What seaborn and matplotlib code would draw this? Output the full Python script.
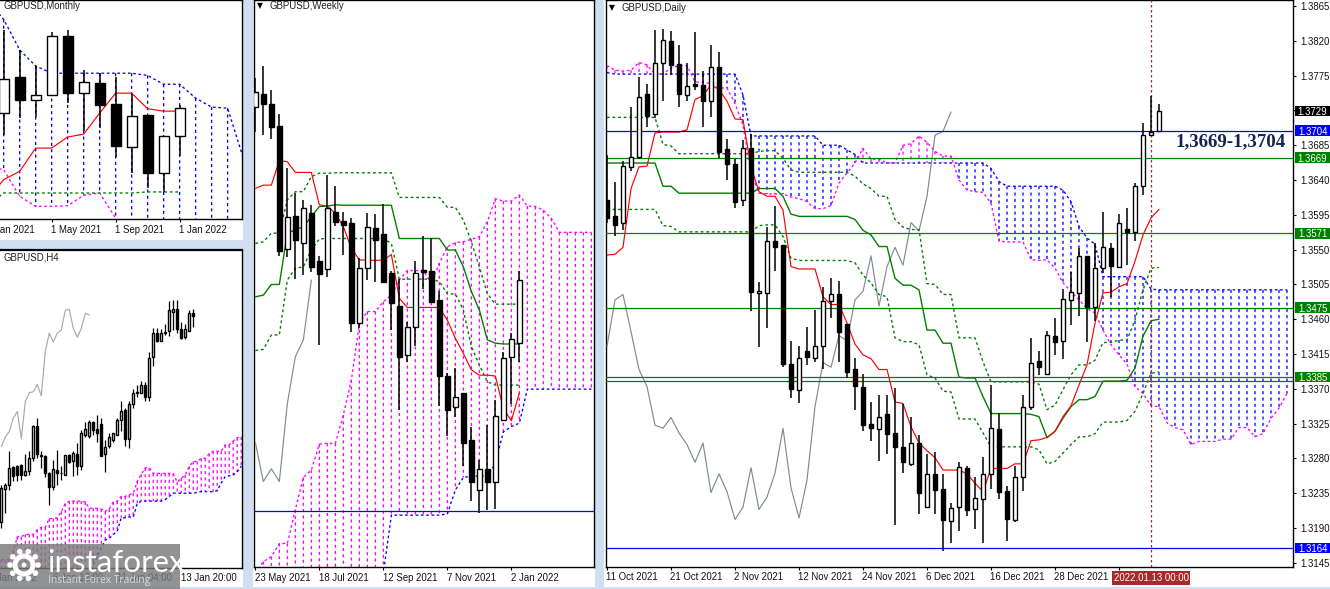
import numpy as np
import matplotlib
matplotlib.use("Agg")
import matplotlib.pyplot as plt
from matplotlib.patches import Rectangle, Circle
from matplotlib.transforms import blended_transform_factory
import seaborn as sns

# ---------------- DATA (prices in 1e-4 units) ----------------
d_open = [13614,13593,13584,13657,13670,13751,13725,13791,13820,13790,
 13750,13764,13763,13742,13786,13680,13661,13614,13682,13494,
 13494,13561,13556,13402,13368,13419,13410,13426,13483,13492,
 13454,13395,13373,13325,13318,13337,13313,13295,13273,13300,
 13217,13260,13240,13199,13217,13267,13214,13227,13260,13318,
 13238,13201,13256,13347,13406,13389,13438,13432,13485,13494,
 13542,13476,13526,13552,13528,13577,13573,13632,13698,13703]
d_close = [13591,13582,13658,13670,13747,13723,13791,13821,13789,13751,
 13761,13762,13742,13786,13676,13661,13612,13681,13495,13496,
 13561,13554,13402,13370,13410,13411,13425,13484,13492,13444,
 13392,13374,13323,13319,13333,13311,13295,13275,13300,13235,
 13260,13239,13200,13216,13269,13213,13229,13260,13319,13237,
 13202,13256,13347,13404,13398,13439,13431,13486,13495,13542,
 13476,13526,13554,13529,13585,13573,13632,13698,13702,13729]
d_high = [13673,13638,13665,13735,13773,13764,13834,13835,13833,13815,
 13791,13831,13781,13815,13805,13693,13667,13692,13699,13508,
 13579,13607,13556,13432,13426,13450,13472,13502,13513,13510,
 13454,13410,13389,13353,13362,13362,13371,13351,13334,13310,
 13286,13288,13260,13222,13275,13270,13256,13282,13375,13339,
 13244,13270,13362,13436,13419,13445,13462,13499,13521,13552,
 13542,13558,13599,13558,13596,13604,13636,13714,13749,13738]
d_low = [13584,13568,13575,13652,13667,13708,13720,13742,13776,13735,
 13742,13757,13709,13722,13668,13640,13604,13607,13470,13424,
 13449,13523,13398,13358,13352,13401,13405,13396,13462,13405,
 13384,13342,13315,13303,13277,13286,13194,13261,13270,13208,
 13217,13208,13160,13170,13186,13206,13189,13170,13241,13228,
 13173,13198,13238,13342,13388,13389,13414,13408,13453,13464,
 13431,13458,13520,13489,13526,13530,13561,13620,13698,13703]
d_tenkan = [13543,13544,13553,13629,13657,13658,13701,13702,13702,13702,
 13705,13744,13749,13763,13757,13742,13719,13718,13657,13625,
 13619,13619,13601,13528,13525,13525,13525,13489,13479,13479,
 13455,13428,13414,13409,13395,13395,13353,13351,13321,13300,
 13290,13281,13265,13265,13265,13260,13248,13237,13267,13267,
 13267,13273,13273,13303,13304,13307,13315,13334,13348,13375,
 13401,13455,13494,13495,13502,13506,13535,13569,13591,13602]
d_kijun = [13662,13662,13662,13662,13662,13662,13662,13632,13632,13623,
 13623,13623,13623,13623,13623,13623,13623,13623,13623,13629,
 13629,13629,13619,13596,13593,13593,13593,13593,13593,13593,
 13593,13589,13575,13569,13554,13554,13513,13504,13504,13498,
 13446,13446,13429,13429,13385,13384,13384,13360,13338,13338,
 13338,13338,13338,13337,13334,13307,13315,13332,13347,13356,
 13356,13360,13380,13380,13380,13381,13397,13438,13458,13460]
d_env_up = [13721,13721,13721,13721,13721,13721,13721,13686,13684,13674,
 13674,13674,13674,13674,13674,13674,13674,13674,13674,13677,
 13678,13678,13668,13653,13650,13650,13650,13650,13650,13650,
 13650,13645,13635,13629,13619,13619,13589,13579,13576,13576,
 13506,13505,13492,13492,13436,13436,13436,13405,13379,13379,
 13379,13379,13379,13379,13376,13343,13349,13369,13388,13401,
 13401,13407,13430,13430,13433,13433,13459,13498,13526,13527]
d_env_dn = [13602,13602,13602,13602,13602,13602,13602,13581,13580,13573,
 13573,13573,13573,13573,13573,13573,13573,13573,13573,13581,
 13582,13582,13567,13539,13536,13536,13536,13536,13536,13536,
 13536,13533,13517,13507,13492,13489,13436,13431,13431,13427,
 13388,13384,13367,13366,13331,13331,13331,13313,13295,13295,
 13295,13295,13295,13295,13291,13273,13276,13287,13298,13308,
 13308,13312,13327,13327,13327,13329,13341,13364,13390,13392]
d_span_a = [13779,13777,13777,13777,13777,13777,13777,13777,13777,13777,
 13777,13777,13777,13777,13777,13777,13777,13750,13697,13697,
 13697,13697,13697,13697,13697,13697,13697,13685,13685,13685,
 13679,13673,13662,13662,13662,13662,13662,13662,13662,13662,
 13662,13662,13662,13662,13662,13662,13662,13662,13655,13638,
 13632,13632,13632,13632,13632,13632,13632,13627,13612,13580,
 13565,13557,13515,13515,13515,13515,13515,13515,13499,13498,
 13498,13498,13498,13498,13498,13498,13498,13498,13498,13498,
 13498,13498,13498,13498,13498,13498]
d_span_b = [13788,13782,13781,13782,13792,13789,13777,13777,13785,13788,
 13788,13767,13766,13765,13759,13759,13739,13711,13649,13623,
 13622,13622,13622,13618,13616,13612,13603,13603,13607,13636,
 13649,13662,13681,13667,13667,13662,13662,13685,13687,13697,
 13689,13677,13671,13671,13640,13627,13625,13624,13610,13561,
 13560,13560,13560,13537,13536,13537,13526,13507,13496,13485,
 13474,13468,13446,13427,13414,13402,13373,13364,13348,13347,
 13326,13320,13317,13298,13302,13302,13302,13305,13305,13320,
 13320,13308,13312,13332,13345,13364]
d_chikou = [13425,13485,13492,13444,13395,13373,13323,13319,13333,13313,
 13298,13275,13300,13236,13260,13237,13201,13217,13268,13214,
 13230,13261,13319,13242,13203,13252,13347,13404,13398,13439,
 13432,13485,13496,13542,13477,13528,13553,13530,13585,13574,
 13619,13698,13703,13728]
d_green_levels = [1.3669, 1.3571, 1.3475, 1.3385, 1.3380]
d_blue_levels = [1.3704, 1.3164]
d_yticks = [1.3865,1.3820,1.3775,1.3730,1.3685,1.3640,1.3595,1.3550,1.3505,1.3460,1.3415,1.3370,1.3325,1.3280,1.3235,1.3190,1.3145]
d_tags = [("1.3729","black",1.3729),("1.3704","#0000ff",1.3704),("1.3669","#008000",1.3669),
          ("1.3571","#008000",1.3571),("1.3475","#008000",1.3475),("1.3385","#008000",1.3385),
          ("1.3164","#0000ff",1.3164)]
d_tick_pos = [0,8,16,24,32,40,48,56,64]
d_tick_lab = ["11 Oct 2021","21 Oct 2021","2 Nov 2021","12 Nov 2021","24 Nov 2021","6 Dec 2021","16 Dec 2021","28 Dec 2021",""]

w_open = [14149,14180,14156,14103,13803,13884,13817,13890,13774,13754,13894,13872,13866,13624,13758,13854,13840,13744,13665,13545,13613,13752,13750,13679,13494,13418,13452,13337,13216,13267,13237,13388,13540,13575]
w_close = [14185,14157,14101,13799,13881,13826,13903,13760,13743,13903,13870,13863,13622,13756,13856,13826,13724,13673,13541,13613,13746,13748,13675,13495,13410,13444,13332,13235,13267,13237,13397,13539,13585,13729]
w_high = [14219,14249,14191,14132,14000,13939,13923,13911,13786,13984,13957,13894,13878,13781,13890,13889,13913,13751,13730,13626,13773,13835,13829,13700,13501,13513,13452,13371,13289,13375,13436,13553,13598,13750]
w_low = [14089,14081,14071,13787,13785,13730,13740,13748,13570,13736,13859,13789,13600,13610,13728,13724,13721,13606,13411,13529,13568,13705,13671,13421,13349,13393,13275,13190,13160,13168,13170,13388,13427,13527]
w_tenkan = [13951,13959,13959,14019,14016,13990,13990,13990,13911,13908,13890,13858,13805,13777,13776,13776,13776,13790,13683,13661,13661,13661,13661,13661,13630,13586,13549,13509,13496,13496,13494,13415,13385,13453]
w_kijun = [13687,13691,13717,13717,13842,13850,13858,13882,13907,13908,13911,13910,13910,13910,13910,13910,13910,13910,13829,13829,13829,13829,13829,13829,13801,13801,13760,13700,13655,13582,13574,13572,13572,13572]
w_env_up = [13817,13821,13842,13842,13923,13943,13943,13980,13988,13988,13989,13989,13989,13989,13989,13989,13989,13989,13929,13929,13929,13929,13929,13929,13905,13905,13874,13821,13760,13695,13669,13669,13669,13669]
w_env_dn = [13556,13559,13594,13594,13728,13756,13760,13801,13828,13829,13829,13829,13829,13829,13829,13829,13829,13817,13730,13730,13730,13730,13730,13724,13694,13694,13655,13566,13521,13480,13472,13472,13472,13472]
w_chikou = [13332,13237,13268,13237,13427,13541,13582,13728]
w_span_b = [13013,13042,13054,13086,13086,13168,13247,13265,13328,13330,13330,13399,13484,13622,13651,13651,13675,13691,13728,13751,13751,13751,13720,13769,13809,13819,13821,13827,13833,13870,13926,13920,13920,13935,13908,13907,13898,13878,13844,13844,13844,13844,13844]
w_span_a = [13013,13013,13013,13013,13013,13013,13013,13013,13013,13013,13013,13013,13013,13013,13013,13013,13013,13155,13155,13155,13155,13155,13155,13155,13158,13216,13247,13250,13250,13250,13281,13358,13371,13379,13462,13462,13462,13462,13462,13462,13462,13462,13462]
w_level = 1.3164
w_tick_pos = [0,8,16,24,32]
w_tick_lab = ["23 May 2021","18 Jul 2021","12 Sep 2021","7 Nov 2021","2 Jan 2022"]

m_open = [13700,13934,13780,13815,14204,13828,13894,13755,13472,13683,13300,13544]
m_close = [13920,13780,13815,14204,13826,13901,13753,13476,13674,13298,13544,13729]
m_high = [14246,14114,14008,14231,14246,13982,13960,13934,13821,13683,13544,13749]
m_low = [13553,13663,13670,13815,13762,13575,13597,13406,13300,13201,13172,13410]
m_tenkan = [13124,13256,13311,13465,13465,13538,13557,13696,13828,13828,13725,13709,13709]
m_kijun = [13080,13168,13168,13168,13168,13168,13168,13168,13168,13168,13175,13175,13175]
m_span_a = [14444,14316,14114,14008,13960,13960,13960,13960,13960,13960,13945,13887,13887,13795,13736,13729,13392]
m_span_b = [13344,13322,13146,13080,13080,13084,13153,13168,13003,12904,12904,12904,12904,12904,12904,12904,12904]
m_tick_pos = [-1,3,7,11]
m_tick_lab = ["1 Jan 2021","1 May 2021","1 Sep 2021","1 Jan 2022"]

h_top = [13511,13516,13537,13538,13539,13541,13533,13549,13590,13590,13553,13552,13530,13535,13534,13531,13553,13553,13556,13555,13581,13586,13595,13595,13586,13592,13563,13576,13581,13598,13609,13610,13617,13632,13633,13642,13642,13676,13707,13707,13707,13709,13736,13737,13738,13712,13712,13732,13733]
h_bot = [13469,13510,13516,13527,13528,13528,13528,13533,13550,13555,13552,13530,13513,13513,13531,13530,13528,13545,13546,13539,13539,13579,13577,13585,13581,13552,13554,13564,13572,13579,13598,13574,13573,13618,13632,13632,13627,13627,13677,13697,13697,13707,13710,13734,13712,13701,13702,13710,13729]
h_high = [13516,13518,13558,13539,13541,13542,13555,13558,13591,13600,13558,13553,13532,13547,13560,13539,13553,13554,13558,13568,13585,13595,13598,13596,13604,13600,13572,13581,13581,13600,13621,13612,13621,13636,13642,13647,13646,13683,13713,13713,13712,13718,13747,13749,13749,13721,13719,13736,13738]
h_low = [13461,13480,13509,13520,13521,13522,13527,13528,13546,13549,13537,13526,13490,13509,13516,13522,13528,13543,13527,13528,13534,13576,13575,13579,13570,13552,13532,13562,13570,13579,13584,13565,13562,13612,13626,13631,13621,13621,13666,13696,13697,13705,13704,13711,13707,13700,13700,13710,13715]
h_down = [3,4,5,9,10,11,12,14,15,17,19,23,24,25,31,36,39,44,45,48]
h_chikou = [13564,13576,13583,13600,13608,13574,13621,13632,13633,13642,13628,13684,13707,13696,13707,13711,13736,13737,13713,13702,13713,13732,13730]
h_span_b = [13421,13421,13421,13432,13450,13450,13453,13453,13453,13459,13462,13462,13473,13473,13474,13482,13492,13495,13495,13495,13495,13494,13486,13486,13486,13485,13482,13485,13494,13495,13501,13501,13503,13505,13520,13529,13537,13537,13530,13530,13530,13530,13530,13530,13519,13524,13528,13539,13545,13545,13549,13549,13555,13558,13558,13558,13566,13566,13571,13575,13576]
h_span_a = [13398]*22 + [13402,13415,13425,13436,13446,13448,13453,13457,13474,13474,13475,13475,13492,13495,13495,13495,13495,13495,13495,13497,13501,13505,13505,13505,13505,13505,13505,13506,13507,13507,13507,13507,13508,13518,13526,13527,13528,13532,13539]
h_tick_pos = [-3,13,29,45]
h_tick_lab = ["5 Jan 2022","6 Jan 12:00","11 Jan 04:00","13 Jan 20:00"]

# ---------------- STYLE ----------------
W, H = 1330, 589
FRAME = "#cfdfef"
UI_FONT = ["Liberation Sans", "DejaVu Sans"]
FS = 6.9
sns.set_theme(style="white")
plt.rcParams["font.family"] = UI_FONT
plt.rcParams["axes.unicode_minus"] = False
RED = "#ff0000"; GREEN = "#008000"; BLUE = "#0000ff"; MAG = "#ff00ff"; GREY = "#808a94"
D2 = (0, (2.0, 2.0)); D3 = (0, (2.3, 2.5))
THIN = 0.85

fig = plt.figure(figsize=(W / 100, H / 100), dpi=100, facecolor=FRAME)


def px_axes(x0, y0, x1, y1, **kw):
    return fig.add_axes([x0 / W, 1 - y1 / H, (x1 - x0) / W, (y1 - y0) / H], **kw)


bg = px_axes(0, 0, W, H, zorder=-5)
bg.set_xlim(0, W); bg.set_ylim(H, 0); bg.axis("off")
for (x0, y0, x1, y1) in [(0, 0, 243, 240), (0, 249, 243, 587), (253, 0, 595, 587), (604, 0, W, 587)]:
    bg.add_patch(Rectangle((x0, y0), x1 - x0, y1 - y0, fc="white", ec="none"))


def p(arr):
    return np.asarray(arr, dtype=float) / 1e4


def candles(ax, x, o, hi, lo, c, width, lw=1.1):
    x = np.asarray(x, float)
    ax.vlines(x, lo, hi, color="black", lw=lw, zorder=5)
    up = c >= o
    bottom = np.minimum(o, c)
    ax.bar(x, np.abs(c - o), width=width, bottom=bottom, facecolor=np.where(up, "white", "black"),
           edgecolor="black", linewidth=1.0, zorder=6)


def line(ax, x, y, color, ls="-", lw=THIN, z=3):
    sns.lineplot(x=np.asarray(x, float), y=np.asarray(y, float), color=color, linestyle=ls, linewidth=lw,
                 estimator=None, sort=False, ax=ax, legend=False, zorder=z)


def cloud(ax, x, a, b):
    x = np.asarray(x, float)
    a = np.asarray(a); b = np.asarray(b)
    for xi, ai, bi in zip(x, a, b):
        col = BLUE if ai >= bi else MAG
        ax.plot([xi, xi], [max(ai, bi), min(ai, bi)], color=col, ls=D3, lw=0.95, zorder=2,
                snap=False, dash_capstyle="butt")
    line(ax, x, a, BLUE, D2, 0.95)
    line(ax, x, b, MAG, D2, 0.95)


def finish(ax, xlim, ylim, tick_pos, tick_lab):
    ax.set_xlim(*xlim); ax.set_ylim(*ylim)
    ax.set_facecolor("white")
    ax.set_ylabel(""); ax.set_xlabel("")
    ax.set_yticks([])
    vis = [t for t in tick_pos if xlim[0] <= t <= xlim[1]]
    ax.set_xticks(vis); ax.set_xticklabels([""] * len(vis))
    ax.tick_params(axis="x", bottom=True, length=2.5, width=0.8, color="black")
    for sp in ax.spines.values():
        sp.set_color("black"); sp.set_linewidth(1.0)
    for t, s in zip(tick_pos, tick_lab):
        ax.annotate(s, (t, 0), xycoords=("data", "axes fraction"), xytext=(-0.5, -4), textcoords="offset points",
                    ha="left", va="top", fontsize=FS, color="#111111", annotation_clip=False)


def title(ax, xpx, ypx, s, tri=False):
    ax.annotate(s, (0, 1), xycoords="axes fraction", xytext=(xpx, -ypx), textcoords="offset pixels",
                ha="left", va="center", fontsize=FS, color="#202020", zorder=20)
    if tri:
        ax.annotate("▼", (0, 1), xycoords="axes fraction", xytext=(xpx - 13, -ypx), textcoords="offset pixels",
                    ha="left", va="center", fontsize=5.5, color="black", family="DejaVu Sans", zorder=20)


# ---------------- MONTHLY ----------------
ax = px_axes(0, 0, 242, 219)
idx = np.arange(-1, 16)
cloud(ax, idx, p(m_span_a), p(m_span_b))
line(ax, np.arange(-1, 12), p(m_kijun), GREEN, D2, 1.0)
line(ax, np.arange(-1, 12), p(m_tenkan), RED)
candles(ax, np.arange(12), p(m_open), p(m_high), p(m_low), p(m_close), 0.62)
finish(ax, (-0.229, 14.9), (1.2996, 1.4444), m_tick_pos, m_tick_lab)
ax.spines["left"].set_visible(False)
title(ax, 3, 6, "GBPUSD,Monthly")

# ---------------- H4 ----------------
ax = px_axes(0, 250, 242, 567.7)
idx = np.arange(61)
cloud(ax, idx, p(h_span_a), p(h_span_b))
line(ax, np.arange(len(h_chikou)), p(h_chikou), "#a9a9a9")
top, bot = p(h_top), p(h_bot)
op, cl = bot.copy(), top.copy()
op[h_down], cl[h_down] = top[h_down], bot[h_down]
candles(ax, np.arange(len(top)), op, p(h_high), p(h_low), cl, 0.55, lw=0.9)
finish(ax, (-0.333, 60.2), (1.3411, 1.3812), h_tick_pos, h_tick_lab)
ax.spines["left"].set_visible(False)
ax.spines["top"].set_linewidth(1.6)
title(ax, 3, 8, "GBPUSD,H4")

# ---------------- WEEKLY ----------------
ax = px_axes(254.3, 0, 594, 567.3)
idx = np.arange(len(w_span_a))
cloud(ax, idx, p(w_span_a), p(w_span_b))
line(ax, np.arange(len(w_chikou)), p(w_chikou), GREY)
k = np.arange(len(w_open))
line(ax, k, p(w_env_up), GREEN, D2, 1.0)
line(ax, k, p(w_env_dn), GREEN, D2, 1.0)
line(ax, k, p(w_kijun), GREEN, "-", 1.0)
line(ax, k, p(w_tenkan), RED)
ax.axhline(w_level, color=BLUE, lw=0.9, zorder=4)
candles(ax, k, p(w_open), p(w_high), p(w_low), p(w_close), 0.58)
finish(ax, (-0.13, 42.33), (1.3028, 1.4410), w_tick_pos, w_tick_lab)
title(ax, 15.5, 6, "GBPUSD,Weekly", tri=True)

# ---------------- DAILY ----------------
ax = px_axes(606, 0, 1293, 566.7)
idx = np.arange(len(d_span_a))
cloud(ax, idx, p(d_span_a), p(d_span_b))
line(ax, np.arange(len(d_chikou)), p(d_chikou), GREY)
i = np.arange(len(d_open))
line(ax, i, p(d_env_up), GREEN, D2, 1.0)
line(ax, i, p(d_env_dn), GREEN, D2, 1.0)
line(ax, i, p(d_kijun), GREEN, "-", 1.0)
line(ax, i, p(d_tenkan), RED)
for lv in d_green_levels:
    ax.axhline(lv, color=GREEN, lw=0.9, zorder=4)
for lv in d_blue_levels:
    ax.axhline(lv, color=BLUE, lw=0.9, zorder=4)
ax.axvline(68, color="#a52a2a", lw=0.9, ls=D2, zorder=4)
candles(ax, i, p(d_open), p(d_high), p(d_low), p(d_close), 0.58)
finish(ax, (-0.125, 85.75), (1.31400, 1.38728), d_tick_pos, d_tick_lab)
ax.yaxis.tick_right()
ax.set_yticks(d_yticks)
ax.set_yticklabels(["" if t == 1.3730 else f"{t:.4f}" for t in d_yticks], fontsize=FS, color="#111111")
ax.tick_params(axis="y", right=True, length=2.5, width=0.8, color="black", pad=3)
title(ax, 16, 8, "GBPUSD,Daily", tri=True)
tr = blended_transform_factory(ax.transAxes, ax.transData)
for s, col, val in d_tags:
    ax.add_patch(Rectangle((1.0035, val - 0.00068), 0.0505, 0.00136, transform=tr, fc=col, ec="none",
                           clip_on=False, zorder=29))
    ax.text(1.0285, val, s, transform=tr, ha="center", va="center_baseline", fontsize=FS, color="white", zorder=30,
            clip_on=False)
ax.text(0.9098, 1.3689, "1,3669-1,3704", transform=tr, ha="center", va="center", fontsize=13.6,
        fontweight="bold", family="Liberation Serif", color="#14234f", zorder=25)
ax.annotate("2022.01.13 00:00", (68, 0), xycoords=("data", "axes fraction"), xytext=(0, -4.5), textcoords="offset points",
            ha="center", va="top", fontsize=FS, color="white", zorder=30, annotation_clip=False,
            bbox=dict(boxstyle="square,pad=0.2", fc="#a52a2a", ec="none"))

# ---------------- WATERMARK ----------------
ov = px_axes(0, 0, W, H, zorder=50)
ov.set_xlim(0, W); ov.set_ylim(H, 0); ov.axis("off"); ov.patch.set_alpha(0)
ov.add_patch(Rectangle((0, 544), 180, 45, fc="#7a7a7a", ec="none", alpha=0.82))
ov.add_patch(Circle((24, 565), 9, fc="none", ec="white", lw=3.6))
ov.add_patch(Circle((24, 565), 2.5, fc="white", ec="none"))
for a in np.deg2rad(np.arange(0, 360, 36)):
    ov.add_patch(Circle((24 + 14 * np.cos(a), 565 + 14 * np.sin(a)), 2.8, fc="white", ec="none"))
ov.text(47, 563, "instaforex", fontsize=22.6, color="white", family="Lato", ha="left", va="center")
ov.text(48.5, 581, "Instant Forex Trading", fontsize=7.4, color="#d8d8d8", family="Open Sans", ha="left", va="center")

fig.savefig("out.png", dpi=100, facecolor=fig.get_facecolor())
